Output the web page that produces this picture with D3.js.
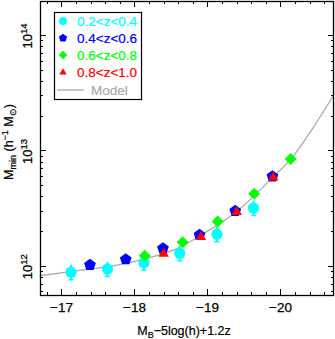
<!DOCTYPE html>
<html>
<head>
<meta charset="utf-8">
<script src="https://cdn.jsdelivr.net/npm/d3@7"></script>
<style>
  body { margin: 0; background: #fff; }
  text { font-family: "Liberation Sans", Arial, sans-serif; }
</style>
</head>
<body>
<svg id="chart" width="335" height="339"></svg>
<script>
// magnitudes M_B-5log(h)+1.2z and log10 of M_min (h^-1 Msun)
const magZ1 = [-17.13, -17.63, -18.13, -18.62, -19.13, -19.63];
const logZ1 = [11.943, 11.971, 12.026, 12.108, 12.273, 12.50];
const errZ1 = [0.065, 0.065, 0.065, 0.065, 0.065, 0.065];

const magZ2 = [-17.39, -17.88, -18.39, -18.89, -19.38, -19.89];
const logZ2 = [12.006, 12.055, 12.15, 12.267, 12.475, 12.774];

const magZ3 = [-18.14, -18.66, -19.14, -19.64, -20.14];
const logZ3 = [12.087, 12.203, 12.383, 12.623, 12.925];

const magZ4 = [-18.40, -18.91, -19.40, -19.90];
const logZ4 = [12.108, 12.253, 12.47, 12.77];

const magModel = [-16.70, -17.2, -17.7, -18.17, -18.55, -18.9, -19.4, -19.9, -20.15, -20.45, -20.73];
const logModel = [11.913, 11.955, 11.998, 12.064, 12.14, 12.26, 12.47, 12.77, 12.93, 13.2, 13.48];

const xTicks = [-17, -18, -19, -20];
const yTicks = [12, 13, 14];
const legendLabels = ["0.2<z<0.4", "0.4<z<0.6", "0.6<z<0.8", "0.8<z<1.0", "Model"];

const margin = { top: 1, right: 1, bottom: 44, left: 40 };
const width = 335, height = 339;
const svg = d3.select("#chart");

const x = d3.scaleLinear()
  .domain([-16.7055, -20.733])
  .range([margin.left, width - margin.right]);
const y = d3.scaleLog()
  .domain([Math.pow(10, 11.746), Math.pow(10, 14.295)])
  .range([height - margin.bottom, margin.top]);

const x0 = margin.left, x1 = width - margin.right;
const y0 = height - margin.bottom, y1 = margin.top;

// minor ticks
const xMinor = d3.range(-16.8, -20.75, -0.2).map(v => +v.toFixed(1))
  .filter(v => !xTicks.includes(v));
const yMinor = [];
[11, 12, 13, 14].forEach(e => {
  for (let k = 2; k <= 9; k++) {
    const v = k * Math.pow(10, e);
    if (v > y.domain()[0] && v < y.domain()[1]) yMinor.push(v);
  }
});
const yMajor = yTicks.map(e => Math.pow(10, e));

const ticks = svg.append("g").attr("stroke", "#000").attr("stroke-width", 1);
function xTickLines(vals, len) {
  vals.forEach(v => {
    const px = Math.round(x(v)) + 0.5;
    ticks.append("line").attr("x1", px).attr("x2", px).attr("y1", y0).attr("y2", y0 - len);
    ticks.append("line").attr("x1", px).attr("x2", px).attr("y1", y1).attr("y2", y1 + len);
  });
}
function yTickLines(vals, len) {
  vals.forEach(v => {
    const py = Math.round(y(v)) + 0.5;
    ticks.append("line").attr("y1", py).attr("y2", py).attr("x1", x0).attr("x2", x0 + len);
    ticks.append("line").attr("y1", py).attr("y2", py).attr("x1", x1).attr("x2", x1 - len);
  });
}
xTickLines(xTicks, 6);
xTickLines(xMinor, 3);
yTickLines(yMajor, 6);
yTickLines(yMinor, 3);

// model curve
const modelLine = d3.line()
  .x(d => x(d[0]))
  .y(d => y(Math.pow(10, d[1])))
  .curve(d3.curveCatmullRom);
svg.append("path")
  .datum(d3.zip(magModel, logModel))
  .attr("d", modelLine)
  .attr("fill", "none")
  .attr("stroke", "#aaaaaa")
  .attr("stroke-width", 1.3);

// symbols
function pentagon(r) {
  const pts = d3.range(5).map(k => {
    const a = -Math.PI / 2 + k * 2 * Math.PI / 5;
    return [r * Math.cos(a), r * Math.sin(a)];
  });
  return "M" + pts.join("L") + "Z";
}
const shapes = {
  circle: r => d3.symbol(d3.symbolCircle, Math.PI * r * r)(),
  pentagon: r => pentagon(r * 1.1),
  diamond: r => `M0,${-r}L${r},0L0,${r}L${-r},0Z`,
  triangle: r => `M0,${-r}L${r * 0.95},${r * 0.65}L${-r * 0.95},${r * 0.65}Z`
};

const series = [
  { mag: magZ1, lm: logZ1, err: errZ1, color: "#00ffff", shape: "circle", r: 5.6 },
  { mag: magZ2, lm: logZ2, err: null, color: "#0000ff", shape: "pentagon", r: 5.6 },
  { mag: magZ3, lm: logZ3, err: null, color: "#00ff00", shape: "diamond", r: 6 },
  { mag: magZ4, lm: logZ4, err: null, color: "#ff0000", shape: "triangle", r: 5.5 }
];

series.forEach(s => {
  const g = svg.append("g");
  const pts = d3.zip(s.mag, s.lm, s.err || s.mag.map(() => 0.015));
  g.selectAll("line.eb").data(pts).enter().append("line")
    .attr("x1", d => x(d[0])).attr("x2", d => x(d[0]))
    .attr("y1", d => y(Math.pow(10, d[1] - d[2])))
    .attr("y2", d => y(Math.pow(10, d[1] + d[2])))
    .attr("stroke", s.color).attr("stroke-width", 2);
  g.selectAll("line.cap").data(pts).enter().append("line")
    .attr("x1", d => x(d[0]) - 2.5).attr("x2", d => x(d[0]) + 2.5)
    .attr("y1", d => y(Math.pow(10, d[1] - d[2])))
    .attr("y2", d => y(Math.pow(10, d[1] - d[2])))
    .attr("stroke", s.color).attr("stroke-width", 1.5);
  g.selectAll("path").data(pts).enter().append("path")
    .attr("d", shapes[s.shape](s.r))
    .attr("transform", d => `translate(${x(d[0])},${y(Math.pow(10, d[1]))})`)
    .attr("fill", s.color);
});

// frame
svg.append("rect")
  .attr("x", x0 + 0.5).attr("y", y1 + 0.5)
  .attr("width", x1 - x0 - 1).attr("height", y0 - y1)
  .attr("fill", "none").attr("stroke", "#000").attr("stroke-width", 1.3);

// tick labels
svg.append("g").selectAll("text").data(xTicks).enter().append("text")
  .attr("x", d => x(d)).attr("y", 312)
  .attr("text-anchor", "middle").attr("font-size", 13.5)
  .attr("stroke", "#000").attr("stroke-width", 0.25)
  .text(d => "\u2212" + Math.abs(d));

yTicks.forEach(e => {
  const t = svg.append("text")
    .attr("transform", `translate(32,${y(Math.pow(10, e)) + 1}) rotate(-90)`)
    .attr("text-anchor", "middle").attr("font-size", 13)
    .attr("stroke", "#000").attr("stroke-width", 0.25);
  t.append("tspan").text("10");
  t.append("tspan").attr("dy", -5).attr("font-size", 9.5).text(e);
});

// axis titles
const xt = svg.append("text")
  .attr("x", 184).attr("y", 335)
  .attr("text-anchor", "middle").attr("font-size", 12.5)
  .attr("stroke", "#000").attr("stroke-width", 0.2);
xt.append("tspan").text("M");
xt.append("tspan").attr("dy", 3).attr("font-size", 9).text("B");
xt.append("tspan").attr("dy", -3).text("\u22125log(h)+1.2z");

const yt = svg.append("text")
  .attr("transform", "translate(13,142) rotate(-90)")
  .attr("text-anchor", "middle").attr("font-size", 12.5)
  .attr("stroke", "#000").attr("stroke-width", 0.2);
yt.append("tspan").text("M");
yt.append("tspan").attr("dy", 3).attr("font-size", 9).text("min");
yt.append("tspan").attr("dy", -3).text(" (h");
yt.append("tspan").attr("dy", -5).attr("font-size", 9).text("\u22121");
yt.append("tspan").attr("dy", 5).text(" M");
yt.append("tspan").attr("dy", 3).attr("font-size", 9).text("\u2299");
yt.append("tspan").attr("dy", -3).text(")");

// legend
const legend = svg.append("g");
legend.append("rect")
  .attr("x", 54.5).attr("y", 12.5).attr("width", 87).attr("height", 87)
  .attr("fill", "#fff").attr("stroke", "#000").attr("stroke-width", 1.2);
const rowY = [21, 38, 55, 72, 90];
series.forEach((s, i) => {
  legend.append("path")
    .attr("d", shapes[s.shape](s.r * 0.7))
    .attr("transform", `translate(63,${rowY[i]})`)
    .attr("fill", s.color);
  legend.append("text")
    .attr("x", 77).attr("y", rowY[i] + 5)
    .attr("font-size", 13.5).attr("fill", s.color)
    .attr("stroke", s.color).attr("stroke-width", 0.2)
    .text(legendLabels[i]);
});
legend.append("line")
  .attr("x1", 57).attr("x2", 84).attr("y1", rowY[4]).attr("y2", rowY[4])
  .attr("stroke", "#aaaaaa").attr("stroke-width", 1.3);
legend.append("text")
  .attr("x", 91).attr("y", rowY[4] + 5)
  .attr("font-size", 13.5).attr("fill", "#aaaaaa")
  .attr("stroke", "#aaaaaa").attr("stroke-width", 0.2)
  .text(legendLabels[4]);
</script>
</body>
</html>
